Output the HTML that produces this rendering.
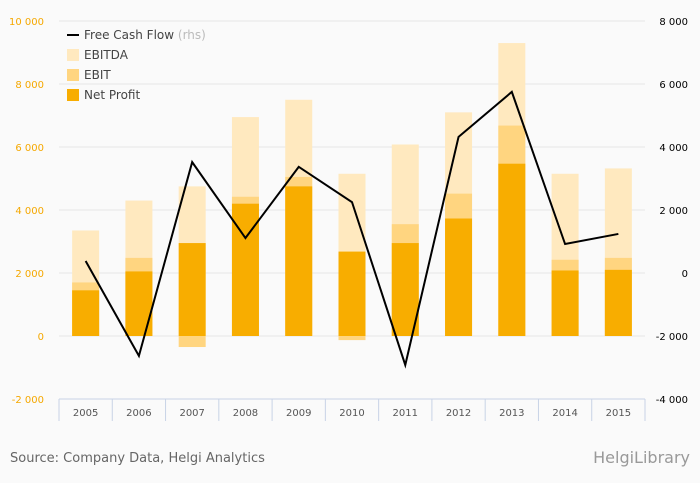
<!DOCTYPE html>
<html><head><meta charset="utf-8"><style>
body{margin:0;background:#fafafa;font-family:"DejaVu Sans","Liberation Sans",sans-serif;}
svg{display:block}
</style></head><body>
<svg width="700" height="483" id="c">
<rect width="700" height="483" fill="#fafafa"/>
<g id="grid"></g><g id="bars"></g><g id="line"></g><g id="axes"></g>
<text x="10" y="462" font-size="13" fill="#666">Source: Company Data, Helgi Analytics</text>
<text x="690" y="463" font-size="16" fill="#999" text-anchor="end">HelgiLibrary</text>
<g font-size="12" fill="#444">
<line x1="67" y1="35" x2="79" y2="35" stroke="#000" stroke-width="2"/>
<text x="84" y="39">Free Cash Flow <tspan fill="#bbb">(rhs)</tspan></text>
<rect x="67" y="49" width="12" height="12" fill="#ffe9bf"/>
<text x="84" y="59">EBITDA</text>
<rect x="67" y="69" width="12" height="12" fill="#ffd580"/>
<text x="84" y="79">EBIT</text>
<rect x="67" y="89" width="12" height="12" fill="#f8ad00"/>
<text x="84" y="99">Net Profit</text>
</g>
</svg>
<script>
const years=["2005","2006","2007","2008","2009","2010","2011","2012","2013","2014","2015"];
const ebitda=[3350,4300,4750,6950,7500,5150,6080,7100,9300,5150,5320];
const ebit=[1700,2480,-350,4420,5050,-130,3550,4520,6680,2420,2480];
const netProfit=[1450,2050,2950,4200,4750,2680,2950,3730,5470,2080,2100];
const fcf=[380,-2630,3520,1110,3370,2250,-2920,4320,5750,920,1240];
const leftTicks=[-2000,0,2000,4000,6000,8000,10000];
const rightTicks=[-4000,-2000,0,2000,4000,6000,8000];
const NS="http://www.w3.org/2000/svg";
const x0=59,x1=645,yTop=21,yBot=399;
const bw=(x1-x0)/years.length;
const yL=v=>yBot-(v+2000)/12000*(yBot-yTop);
const yR=v=>yBot-(v+4000)/12000*(yBot-yTop);
const xC=i=>x0+bw*(i+0.5);
function fmt(v){const s=String(Math.abs(v));const r=s.length>3?s.slice(0,s.length-3)+' '+s.slice(-3):s;return (v<0?'-':'')+r;}
function mk(t,a,p){const e=document.createElementNS(NS,t);for(const k in a)e.setAttribute(k,a[k]);p.appendChild(e);return e;}
const grid=document.getElementById('grid'),bars=document.getElementById('bars'),line=document.getElementById('line'),axes=document.getElementById('axes');
leftTicks.forEach(v=>{
 if(v>-2000){const g=mk('line',{x1:x0,x2:x1,y1:yL(v),y2:yL(v),stroke:'#e6e6e6'},grid);
 
 }
 const t=mk('text',{x:44,y:yL(v)+4,'font-size':10,fill:'#f5a800','text-anchor':'end'},axes);t.textContent=fmt(v);
 
 
});
rightTicks.forEach(v=>{
 const t=mk('text',{x:688,y:yR(v)+4,'font-size':10,fill:'#000','text-anchor':'end'},axes);t.textContent=fmt(v);
 
 
});
function bar(v,i,fill,name){const y=Math.min(yL(v),yL(0)),h=Math.abs(yL(v)-yL(0));
 const r=mk('rect',{x:xC(i)-13.5,y:y,width:27,height:h,fill:fill},bars);
 
 }
years.forEach((yr,i)=>{bar(ebitda[i],i,'#ffe9bf','bar-ebitda-'+yr);bar(ebit[i],i,'#ffd580','bar-ebit-'+yr);bar(netProfit[i],i,'#f8ad00','bar-net-profit-'+yr);});
const p=mk('polyline',{points:fcf.map((v,i)=>xC(i)+','+yR(v)).join(' '),fill:'none',stroke:'#000','stroke-width':2},line);


const ax=mk('line',{x1:x0,x2:x1,y1:yBot,y2:yBot,stroke:'#c8d3e6'},axes);


for(let i=0;i<=years.length;i++){const tk=mk('line',{x1:x0+bw*i,x2:x0+bw*i,y1:yBot,y2:yBot+22,stroke:'#c8d3e6'},axes);
 
 }
years.forEach((yr,i)=>{const t=mk('text',{x:xC(i),y:yBot+17,'font-size':10,fill:'#555','text-anchor':'middle'},axes);t.textContent=yr;
 
 });
</script>
</body></html>
